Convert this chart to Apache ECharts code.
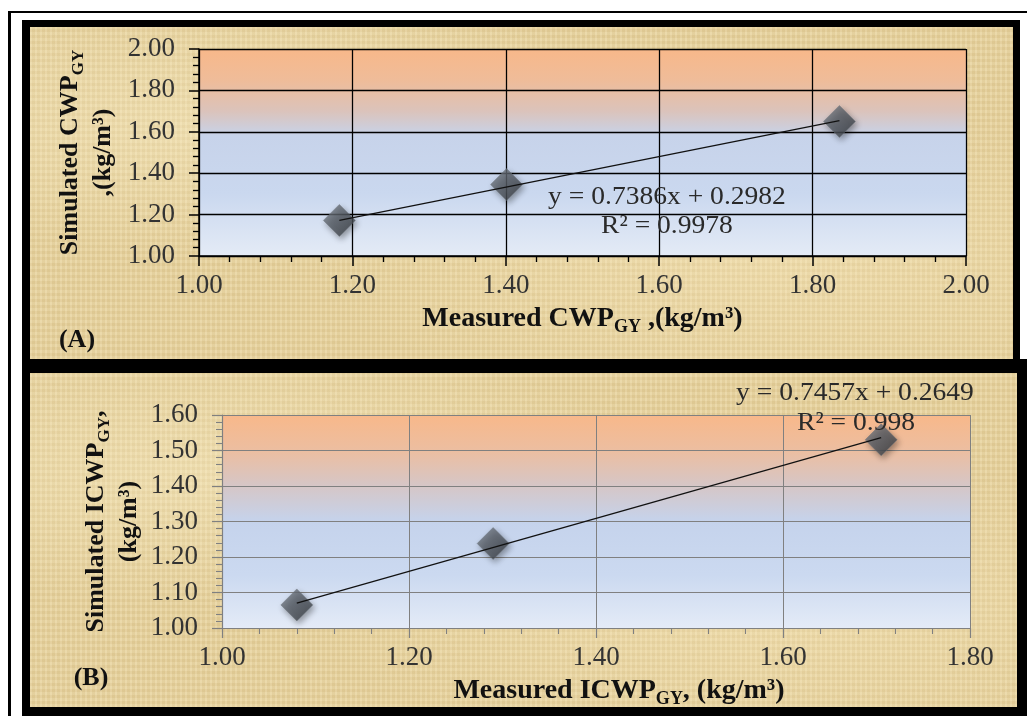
<!DOCTYPE html>
<html>
<head>
<meta charset="utf-8">
<script src="https://cdn.jsdelivr.net/npm/echarts@6/dist/echarts.min.js"></script>
<style>
html,body{margin:0;padding:0;background:#fff;width:1027px;height:716px;overflow:hidden;}
.fr{position:absolute;box-sizing:border-box;}
#outer{left:8px;top:11px;width:1030px;height:720px;border-left:3px solid #000;border-top:2px solid #000;}
.pap{background-color:#e9d49f;
background-image:
 radial-gradient(ellipse at 20% 30%, rgba(255,245,210,0.35), rgba(255,245,210,0) 40%),
 radial-gradient(ellipse at 75% 70%, rgba(255,240,200,0.3), rgba(255,240,200,0) 45%),
 repeating-linear-gradient(90deg, rgba(255,255,255,0.07) 0 2px, rgba(120,90,30,0.05) 2px 5px),
 repeating-linear-gradient(0deg, rgba(255,255,255,0.06) 0 3px, rgba(120,90,30,0.05) 3px 6px);}
#pa{left:22px;top:20px;width:998px;height:346px;border-style:solid;border-color:#000;border-width:7px 7px 7px 8px;}
#pb{left:22px;top:359px;width:1005px;height:357px;border-style:solid;border-color:#000;border-width:14px 10px 9px 8px;}
#chart{position:absolute;left:0;top:0;width:1027px;height:716px;}
</style>
</head>
<body>
<div id="outer" class="fr"></div>
<div id="pa" class="fr pap"></div>
<div id="pb" class="fr pap"></div>
<div id="chart"></div>
<script>
// ---- data ----
const measuredA = [1.183, 1.401, 1.835];
const simulatedA = [1.172, 1.345, 1.650];
const trendA = [0.7386, 0.2982];   // slope, intercept
const r2A = 0.9978;

const measuredB = [1.080, 1.290, 1.705];
const simulatedB = [1.065, 1.238, 1.530];
const trendB = [0.7457, 0.2649];
const r2B = 0.998;

const xTicksA = [1.0, 2.0, 0.2];
const yTicksA = [1.0, 2.0, 0.2];
const xTicksB = [1.0, 1.8, 0.2];
const yTicksB = [1.0, 1.6, 0.1];

// ---- helpers ----
const FONT = '"Liberation Serif","Times New Roman",serif';
function pts(xs, ys){ return xs.map((x,i)=>[x, ys[i]]); }
function trendPts(xs, t){
  const lo = Math.min.apply(null, xs), hi = Math.max.apply(null, xs);
  return [[lo, t[0]*lo + t[1]], [hi, t[0]*hi + t[1]]];
}
function grad(stops){ return new echarts.graphic.LinearGradient(0,0,0,1, stops.map(s=>({offset:s[0], color:s[1]}))); }
const richY = {
  b:{fontFamily:FONT, fontWeight:'bold', fontSize:26, lineHeight:33, color:'#111'},
  s:{fontFamily:FONT, fontWeight:'bold', fontSize:17, lineHeight:17, color:'#111', verticalAlign:'bottom'}
};
const richX = {
  b:{fontFamily:FONT, fontWeight:'bold', fontSize:28, lineHeight:34, color:'#111'},
  s:{fontFamily:FONT, fontWeight:'bold', fontSize:18, lineHeight:18, color:'#111', verticalAlign:'bottom'}
};
function axisCommon(ticks, color, lw, rich){
  return {
    type:'value', min:ticks[0], max:ticks[1], interval:ticks[2],
    axisLine:{show:true, lineStyle:{color:color, width:lw}},
    axisTick:{show:true, length:10, lineStyle:{color:color, width:lw}},
    minorTick:{show:true, splitNumber:5, length:6, lineStyle:{color:color, width:lw*0.9}},
    splitLine:{show:true, lineStyle:{color:color, width:lw*0.85}},
    minorSplitLine:{show:false},
    axisLabel:{formatter:v=>v.toFixed(2), fontFamily:FONT, fontSize:27, color:'#333'},
    nameLocation:'middle',
    nameMoveOverlap:false,
    nameTextStyle:{rich:rich}
  };
}
const markerStyle = {
  color: new echarts.graphic.LinearGradient(0,0,1,1,[{offset:0,color:'#7a818a'},{offset:0.5,color:'#555b63'},{offset:1,color:'#33373c'}]),
  shadowBlur:6, shadowColor:'rgba(0,0,0,0.45)', shadowOffsetX:2, shadowOffsetY:3,
  borderColor:'#6c737b', borderWidth:0.5
};

const chart = echarts.init(document.getElementById('chart'), null, {renderer:'canvas'});
const xa = Object.assign(axisCommon(xTicksA,'#000',1.5,richX), {gridIndex:0,
  name:'{b|Measured CWP}{s|GY}{b| ,(kg/m³)}', nameGap:46});
xa.axisLabel.margin = 16;
const ya = Object.assign(axisCommon(yTicksA,'#000',1.5,richY), {gridIndex:0,
  name:'{b|Simulated CWP}{s|GY}\n{b|,(kg/m³)}', nameGap:79});
ya.axisLabel.margin = 24;
const xb = Object.assign(axisCommon(xTicksB,'#808080',1.2,richX), {gridIndex:1,
  name:'{b|Measured ICWP}{s|GY}{b|, (kg/m³)}', nameGap:46});
xb.axisLabel.margin = 16;
xb.nameTextStyle.padding = [0,0,0,46];
const yb = Object.assign(axisCommon(yTicksB,'#808080',1.2,richY), {gridIndex:1,
  name:'{b|Simulated ICWP}{s|GY}{b|,}\n{b|(kg/m³)}', nameGap:76});
yb.axisLabel.margin = 24;

const txt = (t, x, y, bold) => ({type:'text', x:x, y:y, z:100, scaleX: bold ? 1 : 1.06,
  style:{text:t, fill: bold ? '#111' : '#2a2a2a', font:(bold?'bold ':'')+'26px '+FONT, align:'center', verticalAlign:'middle'}});

chart.setOption({
  animation:false,
  backgroundColor:'transparent',
  grid:[
    {left:199, top:49, width:767, height:207, show:true, borderWidth:0,
     backgroundColor:grad([[0,'#f8b88a'],[0.15,'#efbc99'],[0.3,'#dbc3bb'],[0.42,'#c7d3ea'],[0.7,'#cad8ef'],[1,'#e4ebf6']])},
    {left:222, top:415, width:748, height:213, show:true, borderWidth:0,
     backgroundColor:grad([[0,'#f8b88a'],[0.17,'#ecbea1'],[0.33,'#d6c6c6'],[0.5,'#c5d3ec'],[0.75,'#cbd9f0'],[1,'#e4ebf7']])}
  ],
  xAxis:[xa, xb],
  yAxis:[ya, yb],
  series:[
    {type:'scatter', xAxisIndex:0, yAxisIndex:0, data:pts(measuredA, simulatedA), symbol:'diamond', symbolSize:32, itemStyle:markerStyle, z:2},
    {type:'line', xAxisIndex:0, yAxisIndex:0, data:trendPts(measuredA, trendA), showSymbol:false, symbol:'none', lineStyle:{color:'#111', width:1.3}, z:3},
    {type:'scatter', xAxisIndex:1, yAxisIndex:1, data:pts(measuredB, simulatedB), symbol:'diamond', symbolSize:32, itemStyle:markerStyle, z:2},
    {type:'line', xAxisIndex:1, yAxisIndex:1, data:trendPts(measuredB, trendB), showSymbol:false, symbol:'none', lineStyle:{color:'#111', width:1.3}, z:3}
  ],
  graphic:[
    txt('y = ' + trendA[0] + 'x + ' + trendA[1], 667, 197, false),
    txt('R² = ' + r2A, 667, 226, false),
    txt('y = ' + trendB[0] + 'x + ' + trendB[1], 855, 393, false),
    txt('R² = ' + r2B, 856, 423, false),
    txt('(A)', 77, 340, true),
    txt('(B)', 91, 678, true)
  ]
});
</script>
</body>
</html>
